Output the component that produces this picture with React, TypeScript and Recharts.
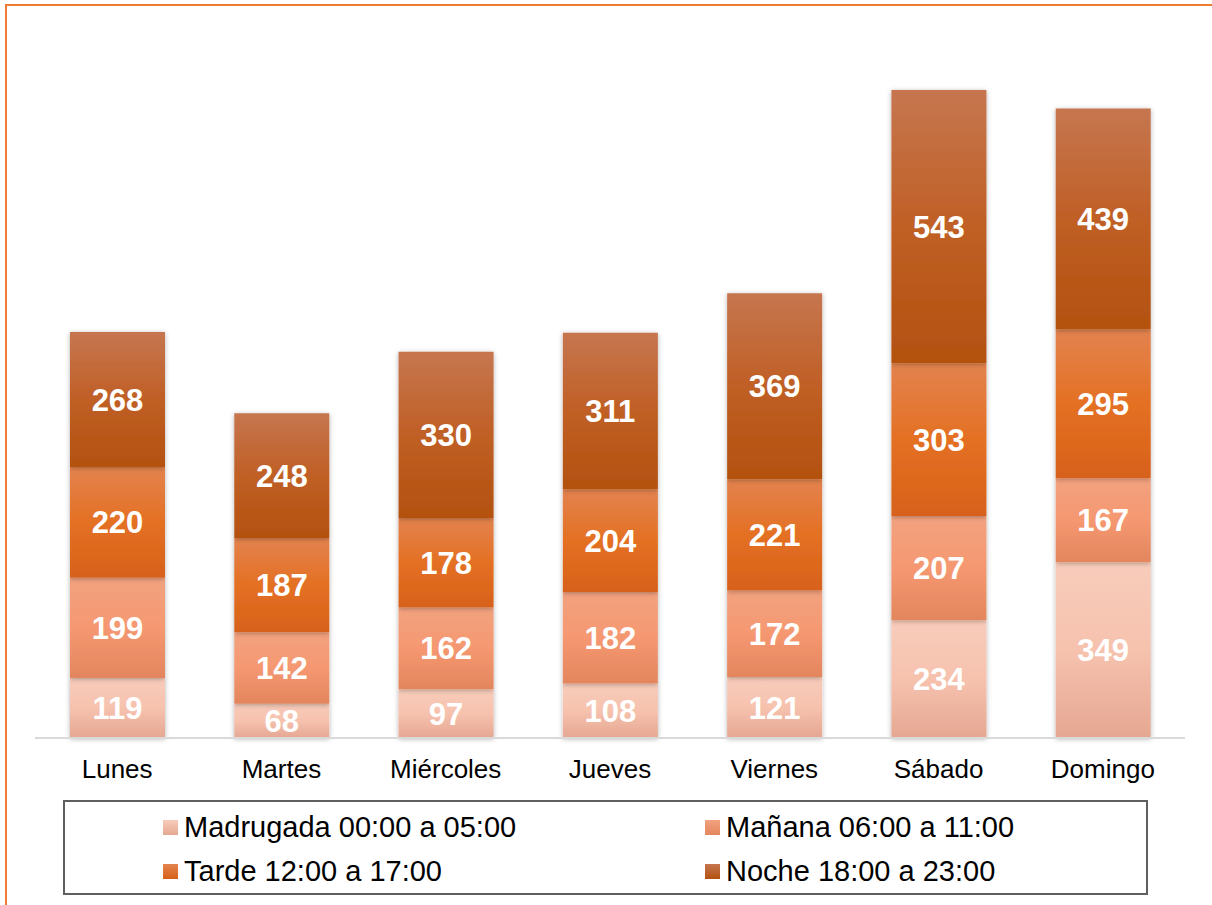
import React from 'react';
import { BarChart, Bar, XAxis, YAxis, Legend, LabelList, Rectangle } from 'recharts';

const days = ['Lunes', 'Martes', 'Miércoles', 'Jueves', 'Viernes', 'Sábado', 'Domingo'];
const madrugada = [119, 68, 97, 108, 121, 234, 349];
const manana = [199, 142, 162, 182, 172, 207, 167];
const tarde = [220, 187, 178, 204, 221, 303, 295];
const noche = [268, 248, 330, 311, 369, 543, 439];

const seriesNames = [
  'Madrugada 00:00 a 05:00',
  'Mañana 06:00 a 11:00',
  'Tarde 12:00 a 17:00',
  'Noche 18:00 a 23:00',
];

const font = '"Liberation Sans", Arial, sans-serif';

// gradient stops (top, middle, bottom) for each series
const gradients = [
  { id: 'gMad', stops: ['#F8CCBB', '#F6C2AE', '#E5A792'] },
  { id: 'gMan', stops: ['#F2A27F', '#F59871', '#E3865E'] },
  { id: 'gTar', stops: ['#E3834F', '#E47023', '#D7611A'] },
  { id: 'gNoc', stops: ['#C67650', '#C05F25', '#B3510F'] },
];

const keys = ['madrugada', 'manana', 'tarde', 'noche'];

const data = days.map((day, i) => ({
  day,
  madrugada: madrugada[i],
  manana: manana[i],
  tarde: tarde[i],
  noche: noche[i],
}));

const ShadowRect = (props: any) => <Rectangle {...props} filter="url(#barShadow)" />;

const renderLegend = () => {
  const cols = [98, 640];
  const rows = [10, 54];
  return (
    <div
      style={{
        position: 'relative',
        width: 1085,
        height: 95,
        border: '2px solid #5F5F5F',
        boxSizing: 'border-box',
        fontFamily: font,
        fontSize: 29,
        color: '#000',
      }}
    >
      {seriesNames.map((name, i) => (
        <div
          key={name}
          style={{
            position: 'absolute',
            left: cols[i % 2],
            top: rows[Math.floor(i / 2)],
            display: 'flex',
            alignItems: 'center',
            whiteSpace: 'nowrap',
            lineHeight: '30px',
          }}
        >
          <span
            style={{
              display: 'inline-block',
              width: 15,
              height: 15,
              marginRight: 6,
              background: `linear-gradient(${gradients[i].stops[0]}, ${gradients[i].stops[2]})`,
            }}
          />
          {name}
        </div>
      ))}
    </div>
  );
};

export default function App() {
  return (
    <div
      style={{
        position: 'absolute',
        left: 0,
        top: 0,
        width: 1212,
        height: 905,
        overflow: 'hidden',
        background: '#fff',
      }}
    >
      <div
        style={{
          position: 'absolute',
          left: 5,
          top: 4,
          width: 1240,
          height: 940,
          border: '2px solid #EE7D33',
          boxSizing: 'border-box',
        }}
      />
      <div style={{ position: 'absolute', left: 0, top: 0 }}>
        <BarChart
          width={1212}
          height={905}
          data={data}
          margin={{ top: 33, right: 27, left: 35, bottom: 107 }}
        >
          <defs>
            {gradients.map((g) => (
              <linearGradient key={g.id} id={g.id} x1="0" y1="0" x2="0" y2="1">
                <stop offset="0%" stopColor={g.stops[0]} />
                <stop offset="50%" stopColor={g.stops[1]} />
                <stop offset="100%" stopColor={g.stops[2]} />
              </linearGradient>
            ))}
            <filter id="barShadow" x="-20%" y="-20%" width="140%" height="140%">
              <feDropShadow dx="0" dy="1" stdDeviation="2.5" floodColor="#000" floodOpacity="0.3" />
            </filter>
          </defs>
          <XAxis
            dataKey="day"
            height={60}
            tickLine={false}
            tickSize={0}
            tickMargin={22}
            axisLine={{ stroke: '#D9D9D9', strokeWidth: 2 }}
            tick={{ fill: '#000', fontSize: 26, fontFamily: font }}
            interval={0}
          />
          <YAxis hide domain={[0, 1400]} />
          <Legend
            layout="horizontal"
            verticalAlign="middle"
            align="center"
            content={renderLegend}
            wrapperStyle={{ position: 'absolute', left: 63, top: 800, width: 1085, height: 95 }}
          />
          {keys.map((k, i) => (
            <Bar
              key={k}
              dataKey={k}
              name={seriesNames[i]}
              stackId="a"
              barSize={95}
              fill={`url(#${gradients[i].id})`}
              shape={ShadowRect}
              isAnimationActive={false}
            >
              <LabelList
                dataKey={k}
                position="center"
                fill="#fff"
                fontSize={31}
                fontWeight="bold"
                fontFamily={font}
              />
            </Bar>
          ))}
        </BarChart>
      </div>
    </div>
  );
}
